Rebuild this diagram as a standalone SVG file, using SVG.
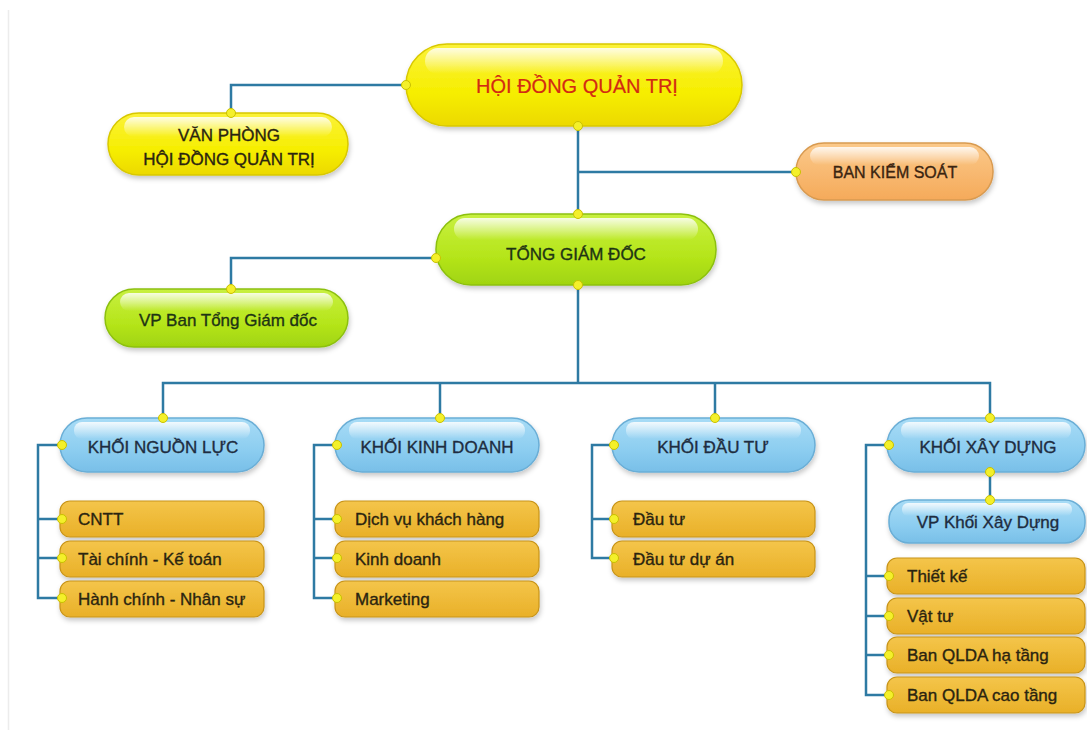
<svg xmlns="http://www.w3.org/2000/svg" width="1087" height="730" viewBox="0 0 1087 730">
<defs>
<style>
text{font-family:"Liberation Sans","DejaVu Sans",Arial,sans-serif;font-size:17px;stroke-width:0.35px;}
.c{text-anchor:middle;}
.conn{fill:none;stroke:#2e7aa3;stroke-width:2.5;}
.dot{fill:#f4f02a;stroke:#c9c000;stroke-width:1;}
.hl{fill:url(#hl);}
.yel{fill:url(#gYel);stroke:#d8c800;stroke-width:1.5;filter:url(#sh);}
.org{fill:url(#gOrg);stroke:#d89a50;stroke-width:1.5;filter:url(#sh);}
.grn{fill:url(#gGrn);stroke:#8cc010;stroke-width:1.5;filter:url(#sh);}
.blu{fill:url(#gBlu);stroke:#6aaed6;stroke-width:1.5;filter:url(#sh);}
.gld{fill:url(#gGld);stroke:#c89418;stroke-width:1.2;filter:url(#sh);}
.tb{fill:#1e2c40;stroke:#1e2c40;}
.tg{fill:#2a2410;stroke:#2a2410;}
</style>
<filter id="sh" x="-10%" y="-20%" width="120%" height="150%">
<feDropShadow dx="1" dy="3" stdDeviation="2.5" flood-color="#000" flood-opacity="0.22"/>
</filter>
<linearGradient id="hl" x1="0" y1="0" x2="0" y2="1">
<stop offset="0" stop-color="#fff" stop-opacity="0.85"/>
<stop offset="1" stop-color="#fff" stop-opacity="0"/>
</linearGradient>
<linearGradient id="gYel" x1="0" y1="0" x2="0" y2="1">
<stop offset="0" stop-color="#fbf23a"/>
<stop offset="0.6" stop-color="#f6ee00"/>
<stop offset="1" stop-color="#ecd900"/>
</linearGradient>
<linearGradient id="gOrg" x1="0" y1="0" x2="0" y2="1">
<stop offset="0" stop-color="#fbc98a"/>
<stop offset="1" stop-color="#f5aa5a"/>
</linearGradient>
<linearGradient id="gGrn" x1="0" y1="0" x2="0" y2="1">
<stop offset="0" stop-color="#c8f040"/>
<stop offset="0.6" stop-color="#b5e51a"/>
<stop offset="1" stop-color="#a0d410"/>
</linearGradient>
<linearGradient id="gBlu" x1="0" y1="0" x2="0" y2="1">
<stop offset="0" stop-color="#a8dcf6"/>
<stop offset="0.6" stop-color="#8ccdf0"/>
<stop offset="1" stop-color="#78bfe8"/>
</linearGradient>
<linearGradient id="gGld" x1="0" y1="0" x2="0" y2="1">
<stop offset="0" stop-color="#f4c54a"/>
<stop offset="1" stop-color="#e9b028"/>
</linearGradient>
</defs>
<rect width="1087" height="730" fill="#ffffff"/>
<line x1="8.5" y1="10" x2="8.5" y2="730" stroke="#ececec" stroke-width="1.5"/>

<g id="connectors">
<path class="conn" d="M406,85 H231 V113"/>
<path class="conn" d="M578,126 V214"/>
<path class="conn" d="M578,172 H796"/>
<path class="conn" d="M436,258 H231 V289"/>
<path class="conn" d="M578,285 V383"/>
<path class="conn" d="M163,418 V383 H990 V418"/>
<path class="conn" d="M440,383 V418"/>
<path class="conn" d="M715,383 V418"/>
<path class="conn" d="M62,445 H38 V598 H62 M38,519 H62 M38,558 H62"/>
<path class="conn" d="M337,445 H314 V598 H337 M314,519 H337 M314,558 H337"/>
<path class="conn" d="M614,445 H592 V558 H614 M592,519 H614"/>
<path class="conn" d="M889,445 H866 V695 H889 M866,576 H889 M866,616 H889 M866,655 H889"/>
<path class="conn" d="M990,472 V500"/>
</g>

<g id="n-hdqt">
<rect class="yel" x="406" y="44" width="336" height="82" rx="41"/>
<rect class="hl" x="425" y="48" width="298" height="26" rx="13"/>
<text class="c" x="577" y="93" style="font-size:20px;fill:#d32a12;stroke:#d32a12;stroke-width:0.2px">HỘI ĐỒNG QUẢN TRỊ</text>
</g>

<g id="n-vanphong">
<rect class="yel" x="108" y="113" width="240" height="62" rx="31"/>
<rect class="hl" x="124" y="117" width="208" height="20" rx="10"/>
<text class="c tg" x="229" y="141">VĂN PHÒNG</text>
<text class="c tg" x="229" y="165">HỘI ĐỒNG QUẢN TRỊ</text>
</g>

<g id="n-bks">
<rect class="org" x="796" y="143" width="197" height="57" rx="28"/>
<rect class="hl" x="810" y="147" width="169" height="18" rx="9"/>
<text class="c" x="895" y="178" style="font-size:16px;fill:#3a2410;stroke:#3a2410">BAN KIỂM SOÁT</text>
</g>

<g id="n-tgd">
<rect class="grn" x="436" y="214" width="280" height="71" rx="35"/>
<rect class="hl" x="454" y="218" width="244" height="22" rx="11"/>
<text class="c" x="576" y="260" style="fill:#1e3414;stroke:#1e3414">TỔNG GIÁM ĐỐC</text>
</g>

<g id="n-vptgd">
<rect class="grn" x="105" y="289" width="243" height="58" rx="29"/>
<rect class="hl" x="120" y="293" width="213" height="18" rx="9"/>
<text class="c" x="228" y="326" style="fill:#1e3414;stroke:#1e3414">VP Ban Tổng Giám đốc</text>
</g>

<g id="n-knl">
<rect class="blu" x="60" y="418" width="204" height="54" rx="27"/>
<rect class="hl" x="74" y="422" width="176" height="17" rx="8"/>
<text class="c tb" x="163" y="453">KHỐI NGUỒN LỰC</text>
</g>
<g id="n-kkd">
<rect class="blu" x="335" y="418" width="204" height="54" rx="27"/>
<rect class="hl" x="349" y="422" width="176" height="17" rx="8"/>
<text class="c tb" x="437" y="453">KHỐI KINH DOANH</text>
</g>
<g id="n-kdt">
<rect class="blu" x="612" y="418" width="203" height="54" rx="27"/>
<rect class="hl" x="626" y="422" width="175" height="17" rx="8"/>
<text class="c tb" x="713" y="453">KHỐI ĐẦU TƯ</text>
</g>
<g id="n-kxd">
<rect class="blu" x="887" y="418" width="198" height="54" rx="27"/>
<rect class="hl" x="901" y="422" width="170" height="17" rx="8"/>
<text class="c tb" x="988" y="453">KHỐI XÂY DỰNG</text>
</g>
<g id="n-vpkxd">
<rect class="blu" x="889" y="500" width="196" height="43" rx="20"/>
<rect class="hl" x="902" y="503" width="170" height="13" rx="6"/>
<text class="c tb" x="988" y="528">VP Khối Xây Dựng</text>
</g>

<g id="n-cntt"><rect class="gld" x="60" y="501" width="204" height="36" rx="10"/><text class="tg" x="78" y="525">CNTT</text></g>
<g id="n-tckt"><rect class="gld" x="60" y="541" width="204" height="36" rx="10"/><text class="tg" x="78" y="565">Tài chính - Kế toán</text></g>
<g id="n-hcns"><rect class="gld" x="60" y="581" width="204" height="36" rx="10"/><text class="tg" x="78" y="605">Hành chính - Nhân sự</text></g>

<g id="n-dvkh"><rect class="gld" x="335" y="501" width="204" height="36" rx="10"/><text class="tg" x="355" y="525">Dịch vụ khách hàng</text></g>
<g id="n-kd"><rect class="gld" x="335" y="541" width="204" height="36" rx="10"/><text class="tg" x="355" y="565">Kinh doanh</text></g>
<g id="n-mkt"><rect class="gld" x="335" y="581" width="204" height="36" rx="10"/><text class="tg" x="355" y="605">Marketing</text></g>

<g id="n-dt"><rect class="gld" x="612" y="501" width="203" height="36" rx="10"/><text class="tg" x="633" y="525">Đầu tư</text></g>
<g id="n-dtda"><rect class="gld" x="612" y="541" width="203" height="36" rx="10"/><text class="tg" x="633" y="565">Đầu tư dự án</text></g>

<g id="n-tk"><rect class="gld" x="887" y="558" width="198" height="36" rx="10"/><text class="tg" x="907" y="582">Thiết kế</text></g>
<g id="n-vt"><rect class="gld" x="887" y="598" width="198" height="36" rx="10"/><text class="tg" x="907" y="622">Vật tư</text></g>
<g id="n-qldaht"><rect class="gld" x="887" y="637" width="198" height="36" rx="10"/><text class="tg" x="907" y="661">Ban QLDA hạ tầng</text></g>
<g id="n-qldact"><rect class="gld" x="887" y="677" width="198" height="36" rx="10"/><text class="tg" x="907" y="701">Ban QLDA cao tầng</text></g>

<g id="dots">
<circle class="dot" cx="406" cy="85" r="4.5"/>
<circle class="dot" cx="578" cy="126" r="4.5"/>
<circle class="dot" cx="231" cy="113" r="4.5"/>
<circle class="dot" cx="796" cy="172" r="4.5"/>
<circle class="dot" cx="578" cy="214" r="4.5"/>
<circle class="dot" cx="436" cy="258" r="4.5"/>
<circle class="dot" cx="578" cy="285" r="4.5"/>
<circle class="dot" cx="231" cy="289" r="4.5"/>
<circle class="dot" cx="163" cy="418" r="4.5"/>
<circle class="dot" cx="440" cy="418" r="4.5"/>
<circle class="dot" cx="715" cy="418" r="4.5"/>
<circle class="dot" cx="990" cy="418" r="4.5"/>
<circle class="dot" cx="62" cy="445" r="4.5"/>
<circle class="dot" cx="337" cy="445" r="4.5"/>
<circle class="dot" cx="614" cy="445" r="4.5"/>
<circle class="dot" cx="889" cy="445" r="4.5"/>
<circle class="dot" cx="990" cy="472" r="4.5"/>
<circle class="dot" cx="990" cy="500" r="4.5"/>
<circle class="dot" cx="62" cy="519" r="4.5"/>
<circle class="dot" cx="62" cy="558" r="4.5"/>
<circle class="dot" cx="62" cy="598" r="4.5"/>
<circle class="dot" cx="337" cy="519" r="4.5"/>
<circle class="dot" cx="337" cy="558" r="4.5"/>
<circle class="dot" cx="337" cy="598" r="4.5"/>
<circle class="dot" cx="614" cy="519" r="4.5"/>
<circle class="dot" cx="614" cy="558" r="4.5"/>
<circle class="dot" cx="889" cy="576" r="4.5"/>
<circle class="dot" cx="889" cy="616" r="4.5"/>
<circle class="dot" cx="889" cy="655" r="4.5"/>
<circle class="dot" cx="889" cy="695" r="4.5"/>
</g>
</svg>
